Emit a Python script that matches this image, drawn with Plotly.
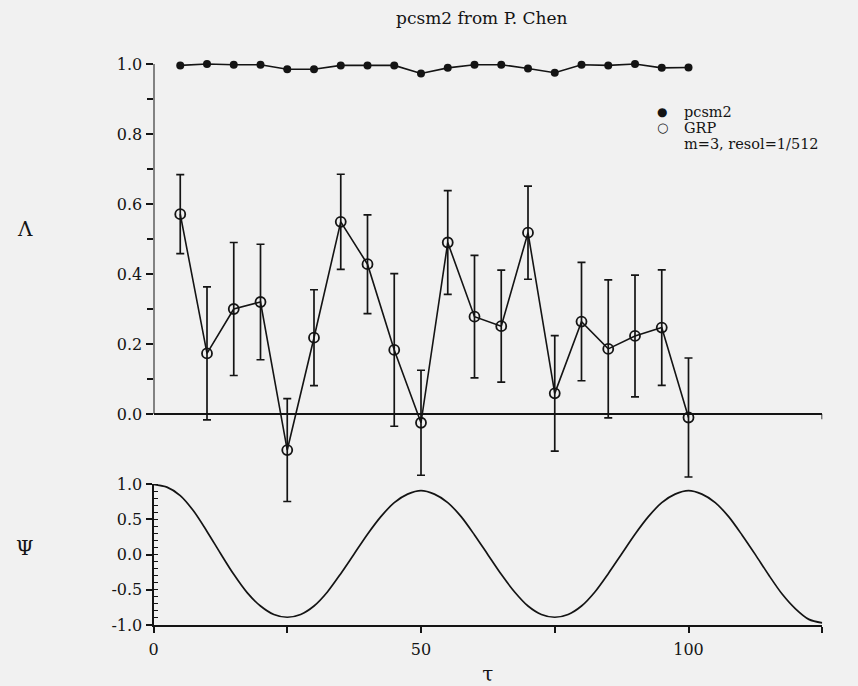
import plotly.graph_objects as go

# ---- data ----
tau_pts = [5, 10, 15, 20, 25, 30, 35, 40, 45, 50, 55, 60, 65, 70, 75, 80, 85, 90, 95, 100]
pcsm2 = [0.996, 1.0, 0.998, 0.998, 0.985, 0.985, 0.996, 0.996, 0.996, 0.973,
         0.989, 0.998, 0.998, 0.987, 0.975, 0.998, 0.996, 1.0, 0.989, 0.99]
grp = [0.571, 0.173, 0.30, 0.32, -0.103, 0.218, 0.549, 0.428, 0.183, -0.025,
       0.49, 0.278, 0.251, 0.518, 0.059, 0.264, 0.186, 0.223, 0.247, -0.01]
grp_err = [0.113, 0.19, 0.19, 0.165, 0.147, 0.137, 0.136, 0.141, 0.218, 0.15,
           0.148, 0.175, 0.16, 0.133, 0.165, 0.169, 0.197, 0.174, 0.165, 0.17]

tau_psi = [0, 2.5, 5, 7.5, 10, 12.5, 15, 17.5, 20, 22.5, 25, 27.5, 30, 32.5, 35, 37.5,
           40, 42.5, 45, 47.5, 50, 52.5, 55, 57.5, 60, 62.5, 65, 67.5, 70, 72.5, 75,
           77.5, 80, 82.5, 85, 87.5, 90, 92.5, 95, 97.5, 100, 102.5, 105, 107.5, 110,
           112.5, 115, 117.5, 120, 122.5, 125]
psi = [1.0, 0.96, 0.84, 0.62, 0.33, 0.02, -0.28, -0.54, -0.73, -0.85, -0.89, -0.85,
       -0.73, -0.53, -0.27, 0.01, 0.29, 0.54, 0.74, 0.86, 0.91, 0.86, 0.74, 0.54,
       0.28, 0.0, -0.28, -0.53, -0.73, -0.85, -0.89, -0.85, -0.73, -0.53, -0.27,
       0.01, 0.29, 0.54, 0.74, 0.86, 0.91, 0.86, 0.74, 0.54, 0.28, 0.0, -0.29,
       -0.56, -0.77, -0.92, -0.97]

x_ticks = [0, 25, 50, 75, 100, 125]
x_ticktext = ["0", "", "50", "", "100", ""]
top_ticks = [0.0, 0.2, 0.4, 0.6, 0.8, 1.0]
top_ticktext = ["0.0", "0.2", "0.4", "0.6", "0.8", "1.0"]
top_minor = [0.1, 0.3, 0.5, 0.7, 0.9]
bot_ticks = [-1.0, -0.5, 0.0, 0.5, 1.0]
bot_ticktext = ["-1.0", "-0.5", "0.0", "0.5", "1.0"]

INK = "#141414"
BG = "#f1f1f1"
FONT = "DejaVu Serif"
W, H = 858, 686

def fx(px):
    return px / W

def fy(py):
    return 1 - py / H

fig = go.Figure()

# top panel
fig.add_trace(go.Scatter(
    x=tau_pts, y=pcsm2, mode="lines+markers", xaxis="x", yaxis="y",
    line=dict(color=INK, width=1.6),
    marker=dict(symbol="circle", size=8, color=INK),
    showlegend=False, cliponaxis=False))
fig.add_trace(go.Scatter(
    x=tau_pts, y=grp, mode="lines+markers", xaxis="x", yaxis="y",
    line=dict(color=INK, width=1.6),
    marker=dict(symbol="circle-open", size=10, color=INK, line=dict(width=1.8)),
    error_y=dict(type="data", array=grp_err, visible=True, color=INK,
                 thickness=1.7, width=4),
    showlegend=False, cliponaxis=False))

# bottom panel
fig.add_trace(go.Scatter(
    x=tau_psi, y=psi, mode="lines", xaxis="x2", yaxis="y2",
    line=dict(color=INK, width=1.7, shape="spline", smoothing=0.8),
    showlegend=False, cliponaxis=False))

xdom = [fx(153.5), fx(153.5 + 125 * 5.35)]

fig.update_layout(
    width=W, height=H,
    margin=dict(l=0, r=0, t=0, b=0, autoexpand=False),
    paper_bgcolor=BG, plot_bgcolor="rgba(0,0,0,0)",
    font=dict(family=FONT, color=INK, size=16),
    xaxis=dict(domain=xdom, range=[0, 125], anchor="y", showline=False,
               automargin=False,
               showgrid=False, zeroline=False, showticklabels=False, ticks=""),
    yaxis=dict(domain=[fy(519), fy(53.5)], range=[-0.3, 1.03], anchor="x",
               automargin=False,
               showline=False, showgrid=False, zeroline=True,
               zerolinecolor=INK, zerolinewidth=1.8,
               tickmode="array", tickvals=top_ticks, ticktext=top_ticktext,
               ticks="outside", ticklen=7, tickwidth=1.6, tickcolor=INK,
               tickfont=dict(family=FONT, size=16),
               minor=dict(tickmode="array", tickvals=top_minor, ticks="outside",
                          ticklen=6, tickwidth=1.6, tickcolor=INK)),
    xaxis2=dict(domain=xdom, range=[0, 125], anchor="y2", showline=True,
                automargin=False,
                linecolor=INK, linewidth=2, showgrid=False, zeroline=False,
                tickmode="array", tickvals=x_ticks, ticktext=x_ticktext,
                ticks="outside", ticklen=6, tickwidth=1.6, tickcolor=INK,
                ticklabelstandoff=3,
                tickfont=dict(family=FONT, size=16),
                title=dict(text="τ", font=dict(family=FONT, size=20), standoff=20)),
    yaxis2=dict(domain=[fy(625), fy(484.3)], range=[-1.0, 1.0], anchor="x2",
                automargin=False,
                showline=True, linecolor=INK, linewidth=2, showgrid=False,
                zeroline=False,
                tickmode="array", tickvals=bot_ticks, ticktext=bot_ticktext,
                ticks="outside", ticklen=6, tickwidth=1.6, tickcolor=INK,
                tickfont=dict(family=FONT, size=16),
                minor=dict(dtick=0.1, tick0=0, ticks="inside", ticklen=4,
                           tickwidth=1.3, tickcolor=INK)),
)

# top y-axis line only between 0 and 1
fig.add_shape(type="line", xref="x", yref="y", x0=0, x1=0, y0=0, y1=1.0,
              line=dict(color=INK, width=2))
# small end tick on the zero line
fig.add_shape(type="line", xref="x", yref="y", x0=125, x1=125, y0=0, y1=-0.015,
              line=dict(color=INK, width=1.6))

ann = [
    dict(text="pcsm2 from P. Chen", x=fx(482), y=fy(18), size=17, xanchor="center"),
    dict(text="Λ", x=fx(25), y=fy(229), size=20, xanchor="center"),
    dict(text="Ψ", x=fx(25), y=fy(548), size=20, xanchor="center"),
    dict(text="●", x=fx(662), y=fy(112), size=12, xanchor="center"),
    dict(text="○", x=fx(662), y=fy(128), size=13, xanchor="center"),
    dict(text="pcsm2", x=fx(682), y=fy(112), size=14.5, xanchor="left"),
    dict(text="GRP", x=fx(682), y=fy(128), size=14.5, xanchor="left"),
    dict(text="m=3, resol=1/512", x=fx(682), y=fy(144), size=14.5, xanchor="left"),
]
for a in ann:
    fig.add_annotation(text=a["text"], x=a["x"], y=a["y"], xref="paper", yref="paper",
                       xanchor=a["xanchor"], yanchor="middle", showarrow=False,
                       font=dict(family=FONT, size=a["size"], color=INK))

fig.write_html("out.html")
